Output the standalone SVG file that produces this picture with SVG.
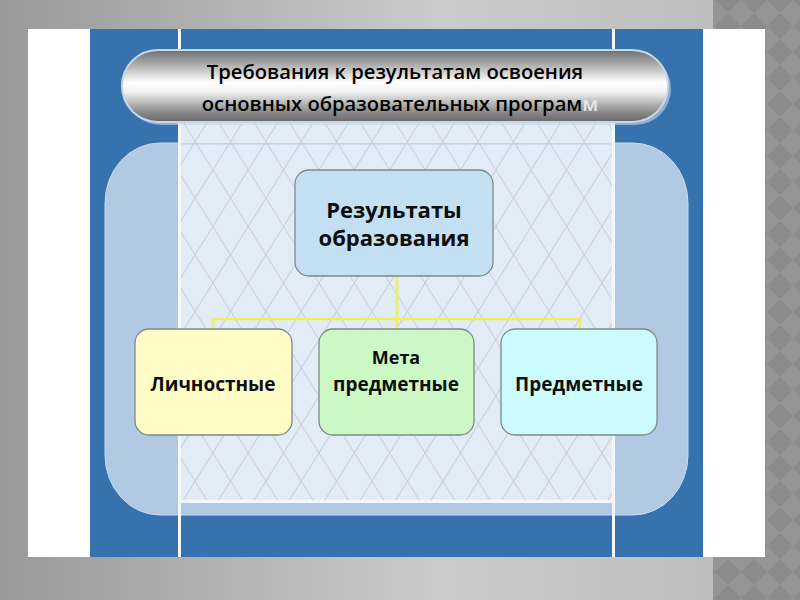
<svg xmlns="http://www.w3.org/2000/svg" width="800" height="600" viewBox="0 0 800 600">
  <defs>
    <linearGradient id="bg" x1="0" y1="0" x2="1" y2="0">
      <stop offset="0" stop-color="#999999"/>
      <stop offset="0.55" stop-color="#cbcbcb"/>
      <stop offset="0.9" stop-color="#bdbdbd"/>
    </linearGradient>
    <pattern id="diam" width="26" height="26" patternUnits="userSpaceOnUse">
      <rect width="26" height="26" fill="#8b8b8b"/>
      <path d="M13 0 L26 13 L13 26 L0 13 Z" fill="#959595"/>
    </pattern>
    <pattern id="hatch" width="30" height="30" patternUnits="userSpaceOnUse" patternTransform="rotate(32)">
      <line x1="0" y1="0" x2="0" y2="30" stroke="#b3b8cc" stroke-width="1.6"/>
    </pattern>
    <pattern id="hatch2" width="30" height="30" patternUnits="userSpaceOnUse" patternTransform="rotate(-32)">
      <line x1="0" y1="0" x2="0" y2="30" stroke="#c2b8c6" stroke-width="1.6"/>
    </pattern>
    <linearGradient id="pill" x1="0" y1="0" x2="0" y2="1">
      <stop offset="0" stop-color="#6f6f6f"/>
      <stop offset="0.18" stop-color="#a5a5a5"/>
      <stop offset="0.45" stop-color="#ffffff"/>
      <stop offset="0.58" stop-color="#f2f2f2"/>
      <stop offset="0.85" stop-color="#8e8e8e"/>
      <stop offset="1" stop-color="#666666"/>
    </linearGradient>
    <clipPath id="inner">
      <rect x="180" y="123" width="433" height="377"/>
    </clipPath>
    <style>
      .box { stroke: #7f8a86; stroke-width: 1.3; }
      .lbl { font-family: "Open Sans", "DejaVu Sans", sans-serif; font-weight: bold; fill: #0d0d0d; text-anchor: middle; }
      .ttl { font-family: "Open Sans", "DejaVu Sans", sans-serif; fill: #000000; text-anchor: middle; font-size: 20.2px; font-weight: 600; }
      .conn { stroke: #f0ef5a; stroke-width: 2.5; fill: none; }
    </style>
  </defs>

  <!-- background -->
  <rect x="0" y="0" width="800" height="600" fill="url(#bg)"/>
  <rect x="713" y="0" width="87" height="600" fill="url(#diam)"/>
  <rect x="28" y="29" width="737" height="528" fill="#ffffff"/>
  <rect x="90" y="29" width="613" height="528" fill="#3672ad"/>

  <!-- big translucent rounded panel -->
  <rect x="105" y="143" width="583" height="372" rx="55" ry="60" fill="#b1c9e2" stroke="#c8dbee" stroke-width="1"/>

  <!-- inner textured panel -->
  <rect x="180" y="123" width="433" height="377" fill="#e1ecf7"/>
  <g clip-path="url(#inner)" opacity="0.7">
    <rect x="180" y="123" width="433" height="377" fill="url(#hatch)"/>
    <rect x="180" y="123" width="433" height="377" fill="url(#hatch2)"/>
  </g>
  <rect x="180" y="143" width="433" height="1.5" fill="#c0d4ea"/>
  <rect x="178" y="29" width="3" height="528" fill="#f4f8fc"/>
  <rect x="612" y="29" width="3" height="528" fill="#f4f8fc"/>
  <rect x="180" y="500" width="433" height="3" fill="#f4f8fc"/>

  <!-- title -->
  <g id="title">
    <rect x="122" y="50" width="546" height="72" rx="36" ry="36" fill="#c9d9ea" opacity="0.6" transform="translate(3,3)"/>
    <rect x="122" y="50" width="546" height="72" rx="36" ry="36" fill="url(#pill)" stroke="#c5d7ea" stroke-width="2"/>
    <text class="ttl" x="395" y="79">Требования к результатам освоения</text>
    <text class="ttl" x="400" y="111">основных образовательных програм<tspan fill="#e8e8e8">м</tspan></text>
  </g>

  <!-- connectors -->
  <g id="connectors">
    <path class="conn" d="M397 277 V319"/>
    <path class="conn" d="M213 330 V319 H580 V330"/>
    <path class="conn" d="M397 319 V330"/>
  </g>

  <!-- nodes -->
  <g id="node-results">
    <rect class="box" x="295" y="170" width="198" height="106" rx="14" fill="#c3e0f3"/>
    <text class="lbl" x="394" y="218" font-size="22">Результаты</text>
    <text class="lbl" x="394" y="246" font-size="22">образования</text>
  </g>
  <g id="node-personal">
    <rect class="box" x="135" y="329" width="157" height="106" rx="14" fill="#fffcc8"/>
    <text class="lbl" x="213" y="391" font-size="19">Личностные</text>
  </g>
  <g id="node-meta">
    <rect class="box" x="319" y="329" width="155" height="106" rx="14" fill="#ccf8c6"/>
    <text class="lbl" x="396" y="364" font-size="18">Мета</text>
    <text class="lbl" x="396" y="391" font-size="19">предметные</text>
  </g>
  <g id="node-subject">
    <rect class="box" x="501" y="329" width="156" height="106" rx="14" fill="#ccfbfd"/>
    <text class="lbl" x="579" y="391" font-size="19">Предметные</text>
  </g>
</svg>
